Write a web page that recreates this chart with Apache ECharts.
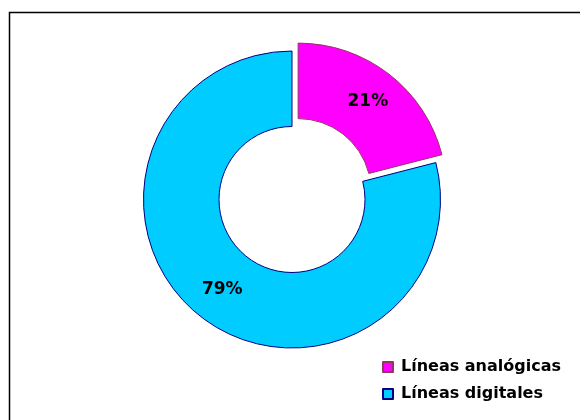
<!DOCTYPE html>
<html><head><meta charset="utf-8">
<script src="https://cdn.jsdelivr.net/npm/echarts@6/dist/echarts.min.js"></script>
<style>html,body{margin:0;padding:0;background:#fff}#c{width:580px;height:420px}</style>
</head><body><div id="c"></div>
<script>
const categories = ['Líneas analógicas', 'Líneas digitales'];
const values = [21, 79];
const colors = ['#FF00FF', '#00CCFF'];
const borders = ['#993366', '#000080'];

const chart = echarts.init(document.getElementById('c'), null, {renderer: 'canvas'});
chart.setOption({
  animation: false,
  backgroundColor: '#fff',
  graphic: [{
    type: 'rect', left: 7, top: 10, z: -1,
    shape: {width: 620, height: 460},
    style: {fill: 'none', stroke: '#000', lineWidth: 1.5}
  }],
  legend: {
    orient: 'vertical', left: 382, top: 359, padding: 0,
    itemWidth: 10, itemHeight: 10, itemGap: 11,
    icon: 'rect',
    selectedMode: false,
    textStyle: {fontFamily: 'DejaVu Sans', fontWeight: 'bold', fontSize: 16, color: '#000', padding: [0, 0, 0, 3]},
    data: categories
  },
  series: [{
    type: 'pie',
    center: [292, 199.5],
    radius: [73, 148.5],
    startAngle: 90,
    clockwise: true,
    selectedMode: 'single',
    selectedOffset: 10,
    avoidLabelOverlap: false,
    emphasis: {disabled: true},
    label: {
      show: true, position: 'inside',
      formatter: p => Math.round(p.percent) + '%',
      fontFamily: 'DejaVu Sans', fontWeight: 'bold', fontSize: 17, color: '#000'
    },
    labelLine: {show: false},
    data: categories.map((n, i) => ({
      name: n, value: values[i], selected: i === 0,
      itemStyle: {color: colors[i], borderColor: borders[i], borderWidth: 1},
      select: {itemStyle: {color: colors[i], borderColor: borders[i], borderWidth: 1}}
    }))
  }]
});
</script></body></html>
